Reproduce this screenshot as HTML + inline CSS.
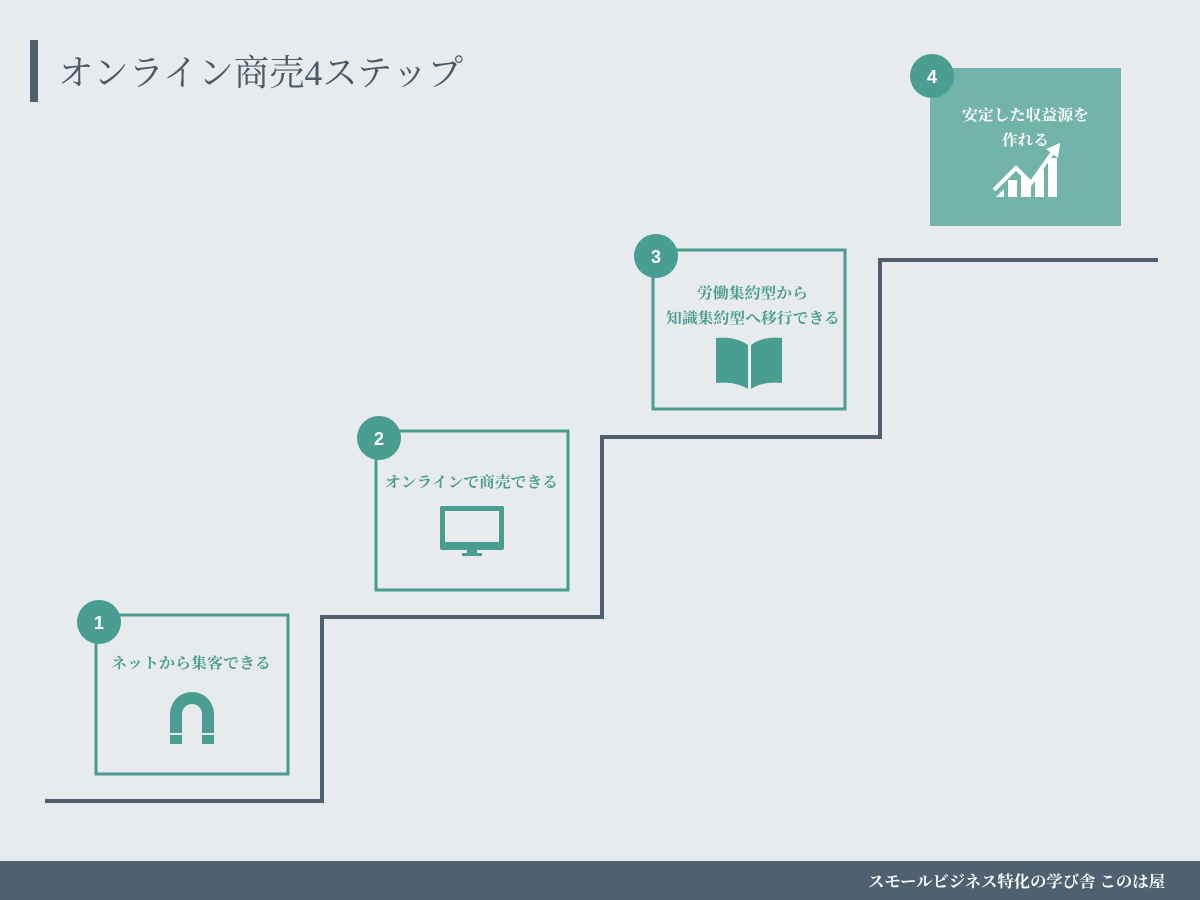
<!DOCTYPE html>
<html><head><meta charset="utf-8"><style>
html,body{margin:0;padding:0;width:1200px;height:900px;overflow:hidden;background:#e8ebee}
svg text{font-family:"Liberation Serif","Noto Serif CJK SC",serif}
</style></head><body>
<svg width="1200" height="900" viewBox="0 0 1200 900" xmlns="http://www.w3.org/2000/svg">
<rect width="1200" height="900" fill="#e8ebee"/>
<rect x="30" y="40" width="8" height="62" fill="#4f6170"/>
<text x="58" y="85" font-size="36" fill="#4b5a66" textLength="405" lengthAdjust="spacingAndGlyphs">オンライン商売4ステップ</text>

<polyline points="45,801 322,801 322,617 602,617 602,437 880,437 880,260 1158,260" fill="none" stroke="#4f5f6e" stroke-width="4"/>

<g fill="none" stroke="#4a9d91" stroke-width="3">
<rect x="96" y="615" width="192" height="159"/>
<rect x="376" y="431" width="192" height="159"/>
<rect x="653" y="250" width="192" height="159"/>
</g>
<rect x="930" y="68" width="191" height="158" fill="#72b3aa"/>

<g fill="#4a9d91">
<circle cx="99" cy="622" r="22"/>
<circle cx="379" cy="438" r="22"/>
<circle cx="656" cy="256" r="22"/>
<circle cx="932" cy="76" r="22"/>
</g>
<g fill="#fff" font-size="18" font-weight="bold" text-anchor="middle">
<text x="99" y="629" style="font-family:'Liberation Sans',sans-serif">1</text>
<text x="379" y="445" style="font-family:'Liberation Sans',sans-serif">2</text>
<text x="656" y="263" style="font-family:'Liberation Sans',sans-serif">3</text>
<text x="932" y="83" style="font-family:'Liberation Sans',sans-serif">4</text>
</g>

<g font-size="15" fill="#4a9d91" font-weight="bold">
<text x="111" y="668" textLength="160" lengthAdjust="spacingAndGlyphs">ネットから集客できる</text>
<text x="385" y="487" textLength="173" lengthAdjust="spacingAndGlyphs">オンラインで商売できる</text>
<text x="697" y="298" textLength="111" lengthAdjust="spacingAndGlyphs">労働集約型から</text>
<text x="666" y="323" textLength="174" lengthAdjust="spacingAndGlyphs">知識集約型へ移行できる</text>
</g>
<g font-size="15" fill="#fff" font-weight="bold">
<text x="962" y="120" textLength="127" lengthAdjust="spacingAndGlyphs">安定した収益源を</text>
<text x="1002" y="145" textLength="47" lengthAdjust="spacingAndGlyphs">作れる</text>
</g>

<!-- magnet -->
<path d="M170,744 L170,714 A22,22 0 0 1 214,714 L214,744 L202,744 L202,714 A10,10 0 0 0 182,714 L182,744 Z" fill="#4a9d91"/>
<rect x="169" y="733" width="46" height="2" fill="#e8ebee"/>

<!-- monitor -->
<rect x="440" y="506" width="64" height="44" rx="2" fill="#4a9d91"/>
<rect x="445" y="511" width="54" height="31" fill="#e8ebee"/>
<rect x="467" y="550" width="10" height="4" fill="#4a9d91"/>
<rect x="462" y="553" width="20" height="3" fill="#4a9d91"/>

<!-- book -->
<path d="M716,338 Q735,336 748,345 L748,389 Q735,381 716,383 Z" fill="#4a9d91"/>
<path d="M782,338 Q763,336 751,345 L751,389 Q763,381 782,383 Z" fill="#4a9d91"/>

<!-- chart -->
<g fill="#fff">
<polygon points="996,197 1004,189 1004,197"/>
<rect x="1008" y="180" width="9" height="17"/>
<polygon points="1021,176 1024,173 1031,181 1031,197 1021,197"/>
<polygon points="1035,179 1044,169 1044,197 1035,197"/>
<rect x="1048" y="158" width="9" height="39"/>
</g>
<polyline points="994,190 1016,168 1031,183 1053,152" fill="none" stroke="#fff" stroke-width="4"/>
<polygon points="1046,149 1060,143 1058,158" fill="#fff"/>

<rect x="0" y="861" width="1200" height="39" fill="#4f6170"/>
<text x="1165" y="887" font-size="16" font-weight="bold" fill="#fff" text-anchor="end" textLength="297" lengthAdjust="spacingAndGlyphs">スモールビジネス特化の学び舎 このは屋</text>
</svg>
</body></html>
